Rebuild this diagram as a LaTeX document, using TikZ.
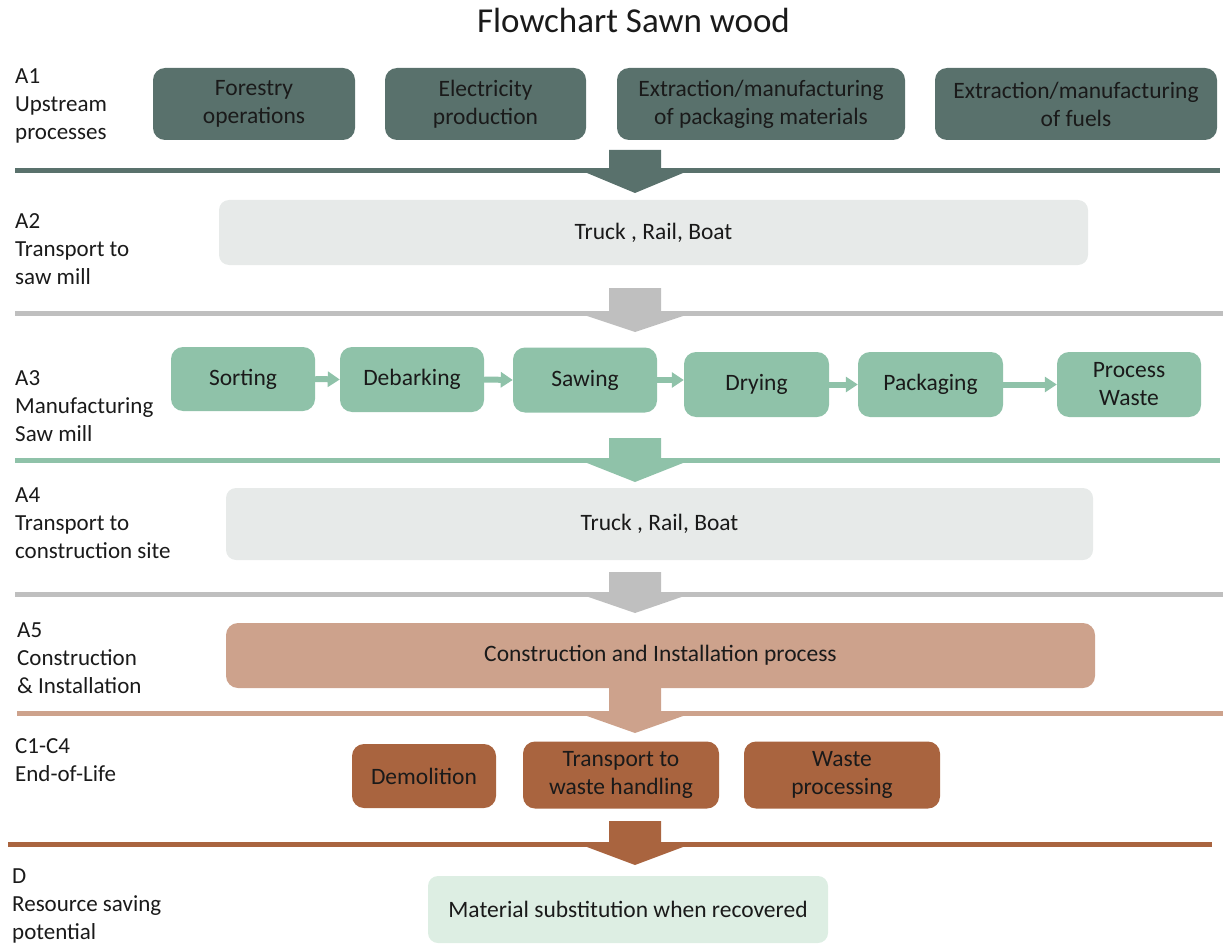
\documentclass[tikz,border=0pt]{standalone}
\usepackage{fontspec}
\setmainfont{Carlito}
\usetikzlibrary{arrows.meta}
\definecolor{slate}{HTML}{59716C}
\definecolor{mint}{HTML}{8FC2A9}
\definecolor{greyline}{HTML}{BFBFBF}
\definecolor{lightbox}{HTML}{E7EAE9}
\definecolor{tan}{HTML}{CDA28C}
\definecolor{brown}{HTML}{A9643F}
\definecolor{palegreen}{HTML}{DDEEE3}
\definecolor{txt}{HTML}{1A1A1A}
\newcommand{\bigarrow}[4]{\fill[#1] (609,#2) -- (661,#2) -- (661,#3) -- (683,#3) -- (635,#4) -- (587,#3) -- (609,#3) -- cycle;}
\begin{document}
\begin{tikzpicture}[x=1pt,y=-1pt,
  box/.style={rounded corners=12pt, inner sep=0pt, align=center, text=txt,
    font=\fontsize{23.5}{28}\selectfont},
  lab/.style={anchor=north west, inner sep=0pt, align=left, text=txt,
    font=\fontsize{23}{28}\selectfont},
  sep/.style={line width=5pt},
  sarrow/.style={draw=mint, line width=6pt, -{Triangle[length=12pt,width=15pt]}}]
\useasboundingbox (0,0) rectangle (1223,944);

% title
\node[anchor=base, inner sep=0pt, text=txt, font=\fontsize{35}{40}\selectfont] (title) at (633.5,33) {Flowchart Sawn wood};

% left labels
\node[lab] (lA1) at (15,68.5) {A1\\Upstream\\processes};
\node[lab] (lA2) at (15,213.5) {A2\\Transport to\\saw mill};
\node[lab] (lA3) at (15,370.5) {A3\\Manufacturing\\Saw mill};
\node[lab] (lA4) at (15,487.5) {A4\\Transport to\\construction site};
\node[lab] (lA5) at (17,622.5) {A5\\Construction\\\& Installation};
\node[lab] (lC) at (15,738.5) {C1-C4\\End-of-Life};
\node[lab] (lD) at (12,868.5) {D\\Resource saving\\potential};

% separator lines
\draw[sep, slate] (15,170.5) -- (1220,170.5);
\draw[sep, greyline] (15,313.5) -- (1223,313.5);
\draw[sep, mint] (15,460.5) -- (1220,460.5);
\draw[sep, greyline] (15,594) -- (1223,594);
\draw[sep, tan] (17,713.5) -- (1223,713.5);
\draw[sep, brown] (8,844.5) -- (1212,844.5);

% big arrows
\bigarrow{slate}{150}{173}{193}
\bigarrow{greyline}{288}{316}{332}
\bigarrow{mint}{438}{463}{482}
\bigarrow{greyline}{572}{596.5}{613}
\bigarrow{tan}{688}{716}{733}
\bigarrow{brown}{821}{847}{865}

% A1
\node[box, fill=slate, minimum width=202pt, minimum height=72pt] (f1) at (254,104) {Forestry\\operations};
\node[box, fill=slate, minimum width=201pt, minimum height=72pt] (f2) at (485.5,104) {Electricity\\production};
\node[box, fill=slate, minimum width=288pt, minimum height=72pt] (f3) at (761,104) {Extraction/manufacturing\\of packaging materials};
\node[box, fill=slate, minimum width=282pt, minimum height=72pt] (f4) at (1076,104) {Extraction/manufacturing\\of fuels};

% A2
\node[box, fill=lightbox, rounded corners=10pt, minimum width=869pt, minimum height=65pt] (t2) at (653.5,232.5) {Truck , Rail, Boat};

% A3
\node[box, fill=mint, minimum width=144pt, minimum height=64pt] (sort) at (243,379) {Sorting};
\node[box, fill=mint, minimum width=144pt, minimum height=65pt] (deb) at (412,379.5) {Debarking};
\node[box, fill=mint, minimum width=144pt, minimum height=65pt] (saw) at (585,380) {Sawing};
\node[box, fill=mint, minimum width=145pt, minimum height=65pt] (dry) at (756.5,384.5) {Drying};
\node[box, fill=mint, minimum width=145pt, minimum height=65pt] (pack) at (930.5,384.5) {Packaging};
\node[box, fill=mint, minimum width=144pt, minimum height=65pt] (pw) at (1129,384.5) {Process\\Waste};
\draw[sarrow] (sort.east) -- (deb.west);
\draw[sarrow] (deb.east) -- (saw.west);
\draw[sarrow] (saw.east) -- (saw.east -| dry.west);
\draw[sarrow] (dry.east) -- (pack.west);
\draw[sarrow] (pack.east) -- (pw.west);

% A4
\node[box, fill=lightbox, rounded corners=10pt, minimum width=867pt, minimum height=72pt] (t4) at (659.5,524) {Truck , Rail, Boat};

% A5
\node[box, fill=tan, minimum width=869pt, minimum height=65pt] (a5) at (660.5,655.5) {Construction and Installation process};

% C1-C4
\node[box, fill=brown, minimum width=144pt, minimum height=64pt] (dem) at (424,776) {Demolition};
\node[box, fill=brown, minimum width=196pt, minimum height=67pt] (trw) at (621,775) {Transport to\\waste handling};
\node[box, fill=brown, minimum width=196pt, minimum height=67pt] (wp) at (842,775) {Waste\\processing};

% D
\node[box, fill=palegreen, rounded corners=10pt, minimum width=400pt, minimum height=67pt] (sub) at (628,909.5) {Material substitution when recovered};
\end{tikzpicture}
\end{document}
